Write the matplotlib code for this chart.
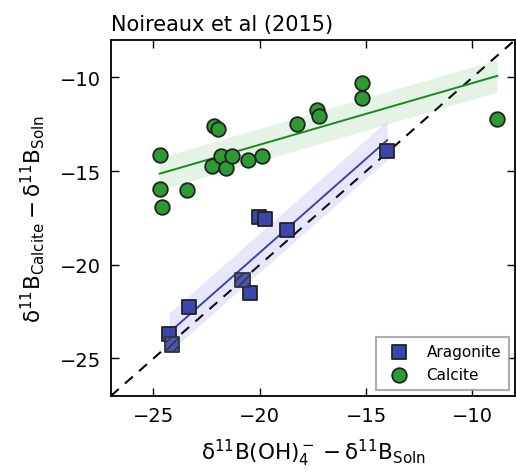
import numpy as np
import matplotlib
matplotlib.use('Agg')
import matplotlib.pyplot as plt

plt.rcParams.update({'font.size': 13, 'mathtext.default': 'regular',
                     'hatch.color': '#8a90d8', 'hatch.linewidth': 1.0})

# calcite points (d11B borate - soln, d11B calcite - soln)
calc_x = [-24.71, -24.71, -24.58, -23.43, -22.17, -21.95, -22.24, -21.82, -21.57,
          -21.32, -20.57, -19.88, -18.24, -17.32, -17.21, -15.20, -15.20, -8.83]
calc_y = [-14.12, -15.98, -16.92, -16.01, -12.59, -12.75, -14.75, -14.17, -14.86,
          -14.17, -14.43, -14.21, -12.50, -11.71, -12.07, -10.32, -11.11, -12.21]

# aragonite points
arag_x = [-24.28, -24.12, -23.34, -20.05, -19.74, -18.71, -20.80, -20.44, -14.01]
arag_y = [-23.71, -24.25, -22.27, -17.46, -17.57, -18.13, -20.82, -21.50, -13.94]
arag_hatched = [False, True, False, False, False, False, True, False, False]

blue = '#3a45ad'
green = '#2e9a34'


def fit_band(x, y, k):
    "least squares line with a band of +/- k * residual sd"
    x = np.asarray(x)
    y = np.asarray(y)
    n = len(x)
    b, a = np.polyfit(x, y, 1)
    xs = np.linspace(x.min(), x.max(), 100)
    ys = a + b * xs
    s = np.sqrt(np.sum((y - (a + b * x))**2) / (n - 2))
    return xs, ys, ys - k*s, ys + k*s


fig = plt.figure(figsize=(5.16, 4.77), dpi=100)
ax = fig.add_axes([0.215, 0.168, 0.783, 0.746])

ax.plot([-27, -8], [-27, -8], color='k', ls=(0, (5, 4)), lw=1.5, zorder=1)

xs, ys, lo, hi = fit_band(calc_x, calc_y, 0.71)
ax.fill_between(xs, lo, hi, color=green, alpha=0.12, lw=0, zorder=1)
ax.plot(xs, ys, color='#1a8a1a', lw=1.4, zorder=2)

xs, ys, lo, hi = fit_band(arag_x, arag_y, 0.85)
ax.fill_between(xs, lo, hi, color='#6060e0', alpha=0.15, lw=0, zorder=1)
ax.plot(xs, ys, color=blue, lw=1.4, zorder=2)

ax.scatter(calc_x, calc_y, s=110, c=green, edgecolors='#222222', linewidths=1.3,
           zorder=3, label='Calcite')
ax_plain = [i for i, h in enumerate(arag_hatched) if not h]
ax_hatch = [i for i, h in enumerate(arag_hatched) if h]
ax.scatter([arag_x[i] for i in ax_plain], [arag_y[i] for i in ax_plain], s=110,
           marker='s', c=blue, edgecolors='#222222', linewidths=1.3, zorder=3,
           label='Aragonite')
ax.scatter([arag_x[i] for i in ax_hatch], [arag_y[i] for i in ax_hatch], s=110,
           marker='s', c='#4a55b8', edgecolors='#333333', linewidths=1.3,
           hatch='////', zorder=3)

ax.set_xlim(-27, -8)
ax.set_ylim(-27, -8)
ax.set_xticks([-25, -20, -15, -10])
ax.set_yticks([-25, -20, -15, -10])
ax.tick_params(direction='in', length=6, width=1, top=True, right=True, pad=7,
               labelsize=14)
for sp in ax.spines.values():
    sp.set_linewidth(1.3)

h, l = ax.get_legend_handles_labels()
leg = ax.legend([h[1], h[0]], [l[1], l[0]], loc='lower right', fancybox=False,
                fontsize=11, borderpad=0.5, handletextpad=0.8, borderaxespad=0.4)
leg.get_frame().set_edgecolor('#999999')
leg.get_frame().set_linewidth(1.5)

ax.set_title('Noireaux et al (2015)', loc='left', fontsize=15, pad=7)
ax.set_xlabel(r'$\delta^{11}B(OH)_4^- - \delta^{11}B_{Soln}$', fontsize=15.5, labelpad=9)
ax.set_ylabel(r'$\delta^{11}B_{Calcite} - \delta^{11}B_{Soln}$', fontsize=15.5, labelpad=9)

fig.savefig('out.png', dpi=100)
